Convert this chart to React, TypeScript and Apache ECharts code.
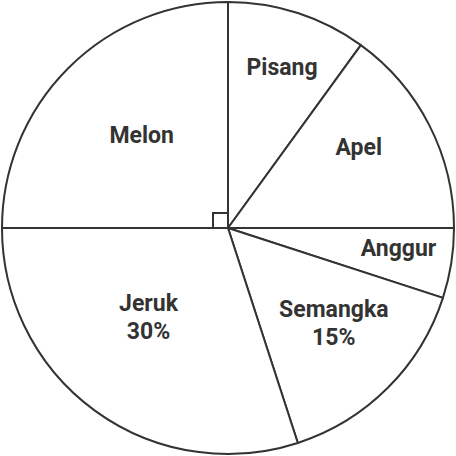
import React, { useEffect, useRef } from "react";
import * as echarts from "echarts";

const categories = ["Pisang", "Apel", "Anggur", "Semangka", "Jeruk", "Melon"];
const values = [10, 15, 5, 15, 30, 25];
const showPercent = [false, false, false, true, true, false];

// label placement: [angle clockwise from top in degrees, fraction of radius]
const labelPlacement: [number, number][] = [
  [18.6, 0.75],
  [58.3, 0.68],
  [97, 0.76],
  [132, 0.63],
  [221.6, 0.53],
  [317, 0.56],
];

const CX = 228;
const CY = 228;
const R = 226;
const INK = "#333333";

export default function App() {
  const ref = useRef<HTMLDivElement>(null);
  useEffect(() => {
    if (!ref.current) return;
    const chart = echarts.init(ref.current, undefined, { renderer: "svg" });
    const m = 15;
    chart.setOption({
      animation: false,
      backgroundColor: "#ffffff",
      series: [
        {
          type: "pie",
          center: [CX, CY],
          radius: [0, R],
          startAngle: 90,
          clockwise: true,
          silent: true,
          itemStyle: { color: "#ffffff", borderColor: INK, borderWidth: 2 },
          label: {
            show: true,
            position: "inside",
            color: INK,
            fontFamily: "Roboto",
            fontWeight: "bold",
            fontSize: 23,
            lineHeight: 28,
            align: "center",
            formatter: (p: any) =>
              showPercent[p.dataIndex] ? `${p.name}\n${Math.round(p.percent)}%` : p.name,
          },
          labelLine: { show: false },
          labelLayout: (p: any) => {
            const [a, f] = labelPlacement[p.dataIndex];
            const rad = (a * Math.PI) / 180;
            return {
              x: CX + Math.sin(rad) * R * f,
              y: CY - Math.cos(rad) * R * f,
              align: "center",
              verticalAlign: "middle",
            };
          },
          data: categories.map((c, i) => ({ name: c, value: values[i] })),
        },
      ],
      graphic: [
        {
          type: "polyline",
          shape: {
            points: [
              [CX - m, CY],
              [CX - m, CY - m],
              [CX, CY - m],
            ],
          },
          style: { stroke: INK, lineWidth: 2, fill: "none" },
          z: 10,
        },
      ],
    });
    return () => chart.dispose();
  }, []);
  return (
    <div
      ref={ref}
      style={{ position: "fixed", left: 0, top: 0, width: 456, height: 456, background: "#fff" }}
    />
  );
}
